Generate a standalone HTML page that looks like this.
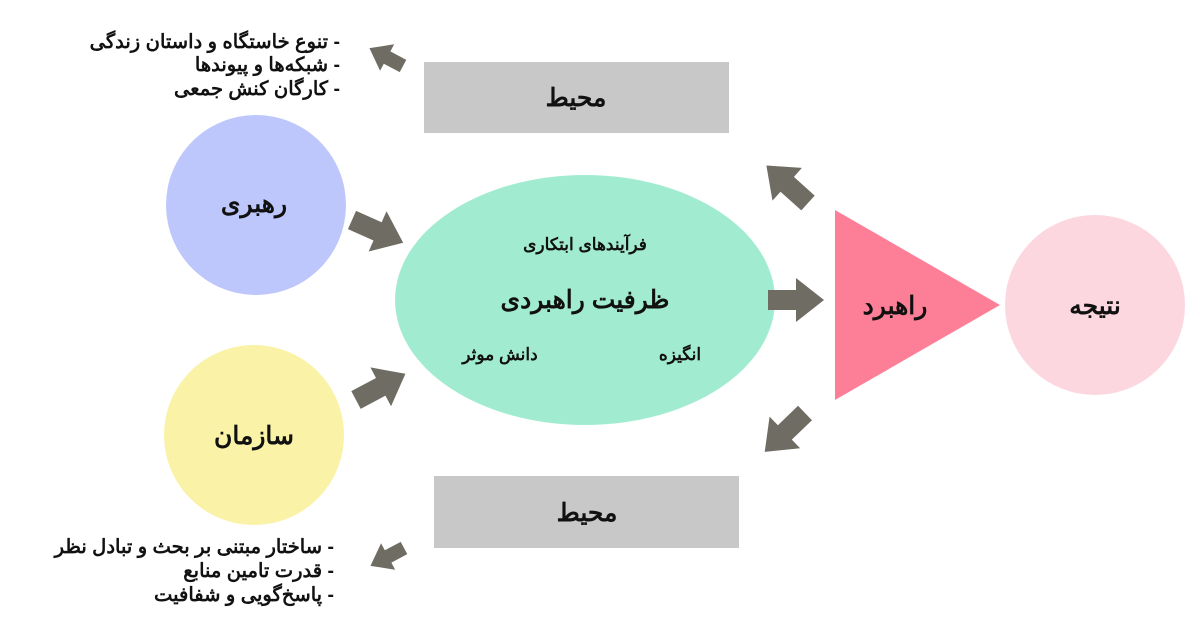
<!DOCTYPE html>
<html><head><meta charset="utf-8"><style>
html,body{margin:0;padding:0;background:#fff;}
svg{display:block}
text{font-family:"Liberation Sans","Noto Sans CJK SC",sans-serif;font-weight:bold;fill:#111;}
</style></head><body>
<svg width="1200" height="638" viewBox="0 0 1200 638" xmlns="http://www.w3.org/2000/svg">
<defs>
<polygon id="ar" points="0,-10 28,-10 28,-22 56,0 28,22 28,10 0,10" fill="#6f6c64"/>
<polygon id="ars" points="0,-7 18,-7 18,-15 38,0 18,15 18,7 0,7" fill="#6f6c64"/>
</defs>
<rect x="424" y="62" width="305" height="71" fill="#c8c8c8"/>
<text x="576" y="106" font-size="25" text-anchor="middle" direction="rtl">محیط</text>
<rect x="434" y="476" width="305" height="72" fill="#c8c8c8"/>
<text x="587" y="521" font-size="25" text-anchor="middle" direction="rtl">محیط</text>
<circle cx="256" cy="205" r="90" fill="#bdc7fc"/>
<text x="254" y="212" font-size="25" text-anchor="middle" direction="rtl">رهبری</text>
<circle cx="254" cy="435" r="90" fill="#faf2a6"/>
<text x="254" y="444" font-size="25" text-anchor="middle" direction="rtl">سازمان</text>
<ellipse cx="585" cy="300" rx="190" ry="125" fill="#a1ecd1"/>
<text x="585" y="250" font-size="17" text-anchor="middle" direction="rtl">فرآیندهای ابتکاری</text>
<text x="585" y="308" font-size="25" text-anchor="middle" direction="rtl">ظرفیت راهبردی</text>
<text x="500" y="360" font-size="17" text-anchor="middle" direction="rtl">دانش موثر</text>
<text x="680" y="360" font-size="17" text-anchor="middle" direction="rtl">انگیزه</text>
<polygon points="835,210 1000,305 835,400" fill="#fd7f97"/>
<text x="895" y="314" font-size="25" text-anchor="middle" direction="rtl">راهبرد</text>
<circle cx="1095" cy="305" r="90" fill="#fdd7e0"/>
<text x="1095" y="314" font-size="25" text-anchor="middle" direction="rtl">نتیجه</text>
<use href="#ar" transform="translate(352,220) rotate(24)"/>
<use href="#ar" transform="translate(356,400) rotate(-28)"/>
<use href="#ar" transform="translate(768,300)"/>
<use href="#ar" transform="translate(808,203) rotate(-138)"/>
<use href="#ar" transform="translate(805,413) rotate(136)"/>
<use href="#ars" transform="translate(403,66) rotate(-152)"/>
<use href="#ars" transform="translate(404,548) rotate(152)"/>
<g font-size="19.5" text-anchor="end" direction="ltr">
<text x="340" y="48">تنوع خاستگاه و داستان زندگی -</text>
<text x="340" y="71">شبکه‌ها و پیوندها -</text>
<text x="340" y="95">کارگان کنش جمعی -</text>
<text x="334" y="553">ساختار مبتنی بر بحث و تبادل نظر -</text>
<text x="334" y="577">قدرت تامین منابع -</text>
<text x="334" y="601">پاسخ‌گویی و شفافیت -</text>
</g>
</svg>
</body></html>
